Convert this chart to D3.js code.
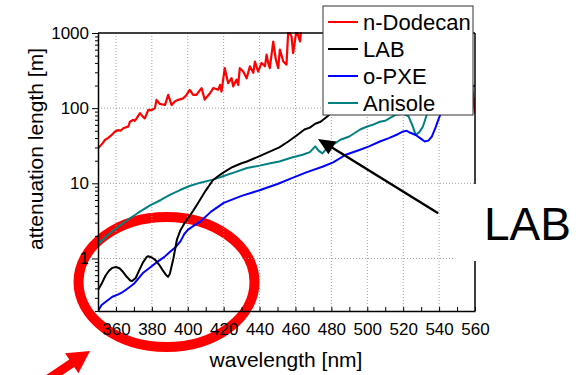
<!DOCTYPE html>
<html><head><meta charset="utf-8">
<script src="https://cdn.jsdelivr.net/npm/d3@7"></script>
<style>
body{margin:0;background:#fff}
svg{display:block}
text{font-family:"Liberation Sans",Arial,sans-serif;fill:#000}
</style></head>
<body><svg id="c" width="583" height="375"></svg>
<script>
// ---- data (wavelength nm, attenuation length m) ----
const seriesNames = ["n-Dodecan","LAB","o-PXE","Anisole"];
const seriesColors = ["#ff0000","#000000","#0000ff","#008080"];
const xTickLabels = [360,380,400,420,440,460,480,500,520,540,560];
const yTickLabels = [1,10,100,1000];

const dodecan = [[350,29],[351,31],[352.5,34],[354,38],[355.5,40],[356.7,42],[358,45],[359.5,49],[361.3,51],[362.5,50],[364.1,54],[366,56],[366.9,57],[367.8,66],[369.7,70],[370.5,68],[371.5,73],[373.4,86],[375.2,76],[376.1,73],[378,95],[379.5,94],[380.8,97],[381.7,100],[382.6,129],[384.4,114],[386,112],[387.3,110],[389.1,150],[391,110],[392.8,123],[394.7,129],[397.5,135],[399.3,150],[401.1,175],[403,150],[404.8,150],[407.7,185],[409.4,130],[410.5,140],[412.4,158],[414.2,185],[417,176],[418,204],[418.8,166],[420.6,340],[422.5,215],[424.4,250],[425.3,195],[427.2,240],[428.1,204],[429,340],[430.9,307],[432.8,250],[434.6,360],[436.5,295],[437.4,417],[439.2,307],[441.1,400],[443,360],[443.9,515],[444.8,400],[445.7,340],[447.6,770],[449,450],[450.4,340],[451.3,600],[453.2,417],[455,380],[456,1100],[457.8,900],[458.7,540],[460.6,1100],[462.5,770],[463.5,1300],[470,1500],[500,2000],[550,2000],[557,400],[560,85]];

const lab = [[350,0.38],[352,0.46],[354,0.58],[356,0.68],[358,0.75],[360,0.77],[362,0.74],[364,0.66],[366,0.57],[368,0.51],[369,0.50],[371,0.55],[373,0.70],[375,0.88],[377,1.04],[378,1.07],[380,1.03],[382,0.95],[384,0.83],[386,0.70],[388,0.60],[389,0.57],[390,0.62],[392,1.0],[394,1.8],[396,2.4],[398,2.9],[400,3.4],[403,4.3],[406,5.6],[410,8.0],[414,11],[417,12.5],[420,14],[425,16.5],[430,18.5],[433,19.5],[440,23],[445,26],[451,30],[456,36],[461,44],[465,52],[468,55],[471,62],[474,66],[477,75],[481,90],[485,100],[490,110],[520,150],[540,140],[560,130]];

const pxe = [[350,0.2],[352,0.24],[355.6,0.28],[358,0.31],[361,0.33],[364,0.36],[366,0.39],[370,0.46],[375,0.64],[379,0.76],[383,0.90],[387,1.05],[390,1.22],[393,1.40],[396,1.7],[398,2.1],[400,2.4],[404,2.8],[407,3.1],[413,4.2],[420,5.5],[430,6.8],[440,8.1],[450,9.8],[458,11.7],[466,14],[475,16.6],[481,19],[488,24],[496,28],[501,31],[507,36],[512,40],[517,45],[520,49],[522,50],[524,47],[527,44],[530,39],[532,36],[534,37],[536,42],[538,55],[540,75],[543,110],[550,160],[560,200]];

const anisole = [[350,1.55],[355,2.0],[360,2.5],[366,3.2],[372,4.0],[379,5.1],[385,6.0],[390,7.0],[396,8.2],[401,9.2],[407,10.2],[414,11.2],[420,12.5],[426,14],[433,16],[440,17.2],[446,18.5],[451,19.5],[458,22],[464,24],[468,26],[471,31],[473,27],[475,25],[478,30],[482,34],[485,38],[490,42],[496,52],[500,57],[503,60],[507,66],[510,68],[513,75],[516,82],[520,84],[523,78],[525,60],[527,44],[529,48],[531,57],[533,80],[536,120],[540,160]];

const allSeries = [dodecan, lab, pxe, anisole];

// ---- chart ----
const svg = d3.select("#c");
const x = d3.scaleLinear().domain([350,560]).range([98,475]);
const y = d3.scaleLog().domain([0.2,1000]).range([311,33]);

// annotation ellipse (background layer)
svg.append("ellipse").attr("cx",166.5).attr("cy",282).attr("rx",88).attr("ry",65)
  .attr("fill","none").attr("stroke","#ff0000").attr("stroke-width",10);

// grid
const grid = svg.append("g").attr("stroke","#a0a0a0").attr("stroke-width",1).attr("stroke-dasharray","1,2");
xTickLabels.filter(d=>d<560).forEach(d=>{
  grid.append("line").attr("x1",x(d)).attr("x2",x(d)).attr("y1",y(1000)).attr("y2",y(0.2));
});
[1,10,100].forEach(d=>{
  grid.append("line").attr("x1",x(350)).attr("x2",x(560)).attr("y1",y(d)).attr("y2",y(d));
});

// curves
svg.append("clipPath").attr("id","clip").append("rect")
  .attr("x",x(350)).attr("y",y(1000)-1).attr("width",x(560)-x(350)).attr("height",y(0.2)-y(1000)+1);
const line = d3.line().x(d=>x(d[0])).y(d=>y(d[1]));
const curves = svg.append("g").attr("clip-path","url(#clip)");
[3,2,1,0].forEach(i=>{
  curves.append("path").datum(allSeries[i]).attr("d",line)
    .attr("fill","none").attr("stroke",seriesColors[i])
    .attr("stroke-width", i===0?2.2:2).attr("stroke-linejoin","round");
});

// frame
svg.append("line").attr("x1",x(350)).attr("x2",x(560)).attr("y1",y(1000)).attr("y2",y(1000)).attr("stroke","#000").attr("stroke-width",1.5);
svg.append("line").attr("x1",x(560)).attr("x2",x(560)).attr("y1",y(1000)).attr("y2",y(0.2)).attr("stroke","#000").attr("stroke-width",1.5);

// x axis (inward ticks)
const xAxis = d3.axisBottom(x).tickValues(d3.range(350,561,10))
  .tickSizeInner(-4).tickSizeOuter(0).tickPadding(12)
  .tickFormat(d=> xTickLabels.includes(d) ? String(d) : "");
const gx = svg.append("g").attr("transform",`translate(0,${y(0.2)})`).call(xAxis);
gx.select(".domain").attr("stroke-width",1.5);
gx.selectAll("text").attr("font-size",17).style("font-family","'Liberation Sans',Arial,sans-serif");

// y axis (outward ticks) majors + minors
const minors = [];
for (let dec of [0.1,1,10,100]) for (let k=2;k<=9;k++){ const v=k*dec; if(v>=0.2 && v<1000) minors.push(+v.toPrecision(3)); }
const gyMin = svg.append("g").attr("transform",`translate(${x(350)},0)`)
  .call(d3.axisLeft(y).tickValues(minors).tickSizeInner(3).tickSizeOuter(0).tickFormat(""));
const gy = svg.append("g").attr("transform",`translate(${x(350)},0)`)
  .call(d3.axisLeft(y).tickValues(yTickLabels).tickSizeInner(6).tickSizeOuter(0).tickPadding(3).tickFormat(d3.format("d")));
gy.select(".domain").attr("stroke-width",1.5);
gy.selectAll("text").attr("font-size",17).style("font-family","'Liberation Sans',Arial,sans-serif");

// axis titles
svg.append("text").attr("x",286).attr("y",367).attr("text-anchor","middle").attr("font-size",21).text("wavelength [nm]");
svg.append("text").attr("transform","translate(43,149) rotate(-90)").attr("text-anchor","middle").attr("font-size",21).text("attenuation length [m]");

// legend
const lg = svg.append("g");
lg.append("rect").attr("x",323).attr("y",6).attr("width",150).attr("height",109)
  .attr("fill","#fff").attr("stroke","#333").attr("stroke-width",1);
seriesNames.forEach((n,i)=>{
  const yy = 22 + i*27;
  lg.append("line").attr("x1",328).attr("x2",358).attr("y1",yy).attr("y2",yy).attr("stroke",seriesColors[i]).attr("stroke-width",2);
  lg.append("text").attr("x",363).attr("y",yy).attr("dy","0.36em").attr("font-size",22).text(n);
});

// LAB annotation box
svg.append("rect").attr("x",454).attr("y",184).attr("width",129).attr("height",77).attr("fill","#fff");
svg.append("text").attr("x",484).attr("y",240).attr("font-size",46).text("LAB");

// black arrow (from data coords)
function arrow(x0,y0,x1,y1,hl,hw,sw,color){
  const dx=x1-x0, dy=y1-y0, L=Math.hypot(dx,dy), ux=dx/L, uy=dy/L, px=-uy, py=ux;
  const bx=x1-ux*hl, by=y1-uy*hl;
  const g=svg.append("g");
  g.append("line").attr("x1",x0).attr("y1",y0).attr("x2",bx+ux*1).attr("y2",by+uy*1).attr("stroke",color).attr("stroke-width",sw);
  g.append("path").attr("d",`M${x1},${y1}L${bx+px*hw},${by+py*hw}L${bx-px*hw},${by-py*hw}Z`).attr("fill",color);
}
arrow(x(539.5), y(4.0), x(472.5), y(39), 17, 7.5, 2.5, "#000");
// red arrow bottom-left
arrow(40, 384.6, 90, 351, 22, 12, 9, "#ff0000");
</script></body></html>
